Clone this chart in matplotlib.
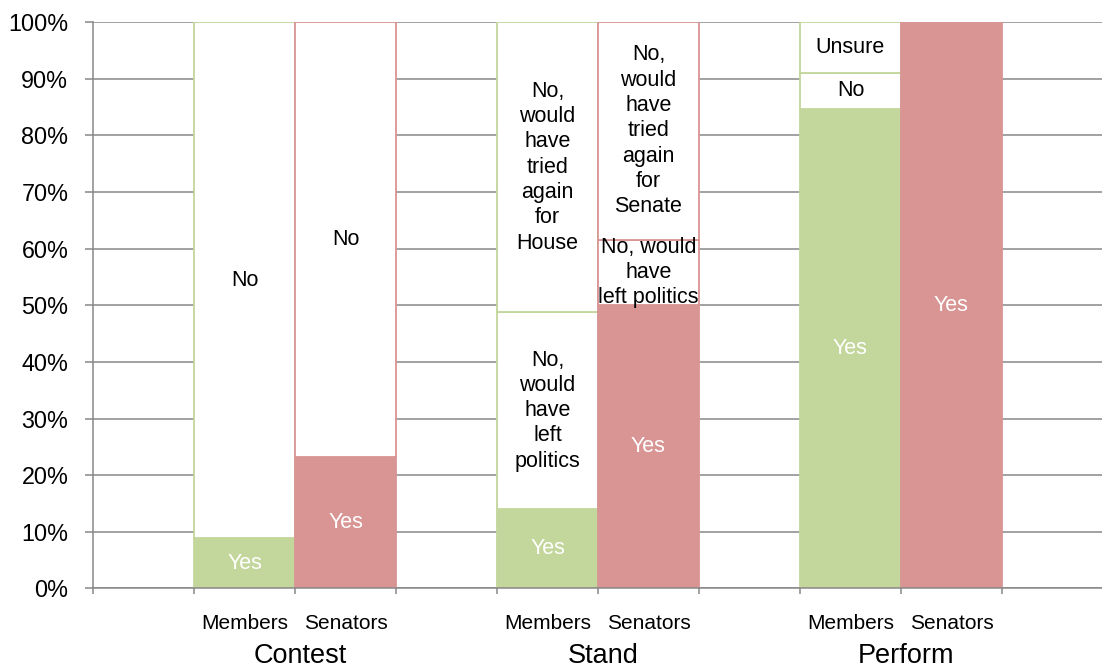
import matplotlib

matplotlib.use("Agg")
import matplotlib.pyplot as plt
import matplotlib.transforms as mtransforms

plt.rcParams["font.family"] = ["Liberation Sans", "DejaVu Sans"]

# survey shares in percent, stacked bottom to top
groups = ["Contest", "Stand", "Perform"]
respondents = ["Members", "Senators"]

contest_members = [8.9, 91.1]
contest_senators = [23.2, 76.8]
stand_members = [14.0, 34.8, 51.2]
stand_senators = [50.0, 11.6, 38.4]
perform_members = [84.6, 6.5, 8.9]
perform_senators = [100.0]

contest_labels = ["Yes", "No"]
stand_members_labels = [
    "Yes",
    "No,\nwould\nhave\nleft\npolitics",
    "No,\nwould\nhave\ntried\nagain\nfor\nHouse",
]
stand_senators_labels = [
    "Yes",
    "No, would\nhave\nleft politics",
    "No,\nwould\nhave\ntried\nagain\nfor\nSenate",
]
perform_labels = ["Yes", "No", "Unsure"]

GREEN = "#c3d69b"
RED = "#d99594"
GRID = "#878787"

bars = [
    (contest_members, contest_labels, GREEN),
    (contest_senators, contest_labels, RED),
    (stand_members, stand_members_labels, GREEN),
    (stand_senators, stand_senators_labels, RED),
    (perform_members, perform_labels, GREEN),
    (perform_senators, perform_labels, RED),
]
# each group takes two slots, with an empty slot on either side
positions = [1.5, 2.5, 4.5, 5.5, 7.5, 8.5]

fig = plt.figure(figsize=(11.02, 6.71), dpi=100)
ax = fig.add_axes([0.0844, 0.123, 0.9165, 0.844])

for x, (vals, labels, color) in zip(positions, bars):
    bottom = 0.0
    for i, (v, lab) in enumerate(zip(vals, labels)):
        yes = i == 0
        ax.bar(x, v, bottom=bottom, width=1.0,
               color=color if yes else "white",
               edgecolor=color, linewidth=1.3, zorder=2)
        ax.text(x, bottom + v / 2, lab, ha="center", va="center",
                fontsize=15.5, linespacing=1.27,
                color="white" if yes else "black", zorder=3)
        bottom += v

ax.set_xlim(0, 10)
ax.set_ylim(0, 100)
ax.set_yticks(range(0, 101, 10))
ax.set_yticklabels([f"{t}%" for t in range(0, 101, 10)], fontsize=16.8)
ax.yaxis.grid(True, color=GRID, linewidth=1.1)
ax.set_axisbelow(True)

ax.set_xticks(range(0, 11))
ax.set_xticklabels([])
ax.set_xticks(positions, minor=True)
ax.set_xticklabels(respondents * 3, minor=True, fontsize=15)
ax.tick_params(axis="x", which="major", length=4.3, color=GRID, width=1.1)
ax.tick_params(axis="x", which="minor", length=0, pad=18.5)
ax.tick_params(axis="y", length=5.8, color=GRID, width=1.1, pad=12)

for side in ("top", "right"):
    ax.spines[side].set_visible(False)
for side in ("left", "bottom"):
    ax.spines[side].set_color(GRID)
    ax.spines[side].set_linewidth(1.1)

trans = mtransforms.blended_transform_factory(ax.transData, ax.transAxes)
for k, g in enumerate(groups):
    ax.text(positions[2 * k] + 0.55, -0.119, g, transform=trans,
            ha="center", va="center", fontsize=19.5)

fig.savefig("out.png", dpi=100)
